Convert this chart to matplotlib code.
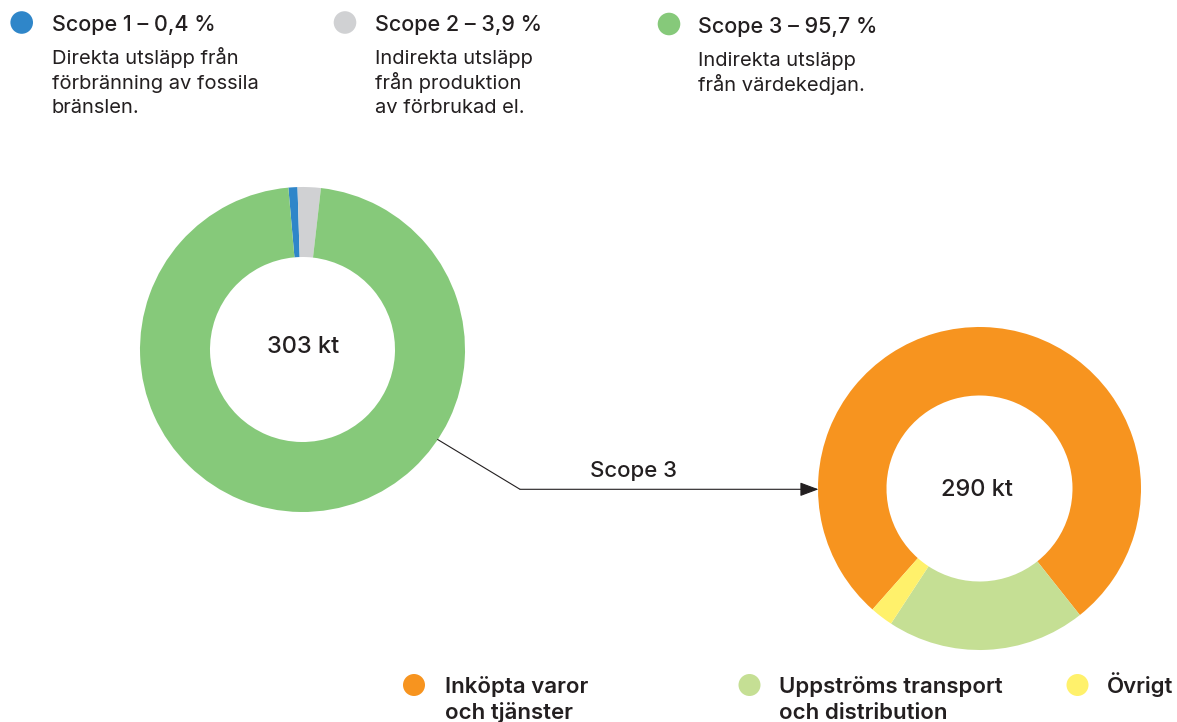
import matplotlib
matplotlib.use('Agg')
import matplotlib.pyplot as plt
from matplotlib.patches import Circle

plt.rcParams['font.family'] = ['Inter', 'DejaVu Sans']

# shares as drawn in the rings (percent)
scope_labels = ['Scope 1', 'Scope 2', 'Scope 3']
scope_shares = [0.9, 2.3, 96.8]
scope_titles = ['Scope 1 – 0,4 %', 'Scope 2 – 3,9 %', 'Scope 3 – 95,7 %']
scope_texts = ['Direkta utsläpp från\nförbränning av fossila\nbränslen.',
               'Indirekta utsläpp\nfrån produktion\nav förbrukad el.',
               'Indirekta utsläpp\nfrån värdekedjan.']
scope_colors = ['#2f86c9', '#d0d1d3', '#86c97a']
total_all = '303 kt'

cat_labels = ['Inköpta varor\noch tjänster', 'Uppströms transport\noch distribution', 'Övrigt']
cat_shares = [77.8, 19.9, 2.3]
cat_colors = ['#f7941f', '#c5df94', '#fff16b']
total_s3 = '290 kt'

TXT = '#231f20'
H = 722

def Y(y):
    return H - y

fig = plt.figure(figsize=(11.77, 7.22), dpi=100)
ax = fig.add_axes([0, 0, 1, 1])

# left ring: all scopes
ax.pie(scope_shares, colors=scope_colors, startangle=95, counterclock=False,
       center=(302.5, Y(349.5)), radius=162.5,
       wedgeprops=dict(width=70, linewidth=0))
ax.text(303, Y(353), total_all, ha='center', va='baseline', fontsize=17,
        fontweight='medium', color=TXT)

# right ring: scope 3 split
ax.pie(cat_shares, colors=cat_colors, startangle=228.5, counterclock=False,
       center=(979.5, Y(488.5)), radius=161.5,
       wedgeprops=dict(width=68.5, linewidth=0))
ax.text(977, Y(496.5), total_s3, ha='center', va='baseline', fontsize=17,
        fontweight='medium', color=TXT)

ax.set_xlim(0, 1177)
ax.set_ylim(0, H)
ax.set_aspect('equal')
ax.axis('off')

# connector arrow
ax.plot([437.3, 520], [Y(439.3), Y(489.3)], color=TXT, lw=0.8, solid_capstyle='butt')
ax.annotate('', xy=(818.5, Y(489.3)), xytext=(520, Y(489.3)),
            arrowprops=dict(arrowstyle='-|>,head_length=1.15,head_width=0.43',
                            mutation_scale=10, lw=0.8, color=TXT,
                            shrinkA=0, shrinkB=0))
ax.text(633, Y(477), 'Scope 3', ha='center', va='baseline', fontsize=16,
        fontweight='medium', color=TXT)

# top legend
dot_x = [21.7, 345, 669]
dot_y = [22.5, 22.5, 24]
txt_x = [51.7, 375, 698.3]
head_base = [30.7, 30.7, 33]
for i in range(3):
    ax.add_patch(Circle((dot_x[i], Y(dot_y[i])), 11.3, color=scope_colors[i], lw=0))
    ax.text(txt_x[i], Y(head_base[i]), scope_titles[i], ha='left', va='baseline',
            fontsize=15.5, fontweight='medium', color=TXT)
    for j, line in enumerate(scope_texts[i].split('\n')):
        ax.text(txt_x[i], Y(head_base[i] + 33.3 + j * 24.7), line, ha='left',
                va='baseline', fontsize=14.5, color=TXT)

# bottom legend
bdot_x = [414, 749.5, 1077.5]
btxt_x = [445, 779.3, 1106.7]
for i in range(3):
    ax.add_patch(Circle((bdot_x[i], Y(685)), 11, color=cat_colors[i], lw=0))
    for j, line in enumerate(cat_labels[i].split('\n')):
        ax.text(btxt_x[i], Y(693.3 + j * 25.5), line, ha='left', va='baseline',
                fontsize=16, fontweight='semibold', color=TXT)

fig.savefig('out.png', dpi=100)
